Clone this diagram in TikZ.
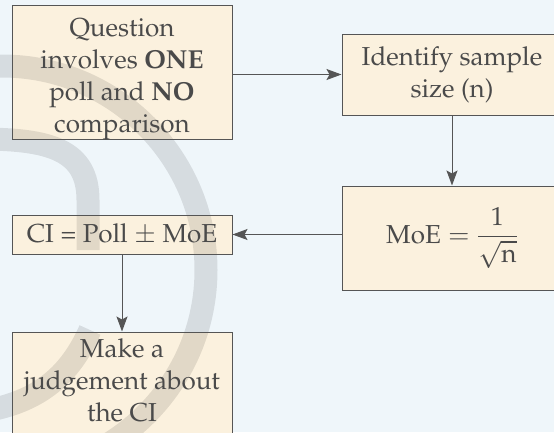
\documentclass[tikz,border=0pt]{standalone}
\usepackage[T1]{fontenc}
\usepackage{mathpazo}
\usetikzlibrary{arrows.meta,backgrounds}
\definecolor{bgc}{HTML}{EFF6FA}
\definecolor{boxc}{HTML}{FBF1DE}
\definecolor{linec}{HTML}{555555}
\definecolor{txtc}{HTML}{4A4A4A}
\begin{document}
\begin{tikzpicture}[x=1pt,y=-1pt,
  box/.style={draw=linec, line width=1pt, text=txtc, minimum width=220pt,
    align=center, inner sep=0pt, font=\fontsize{26}{32}\selectfont},
  arr/.style={draw=linec, line width=1pt, -{Stealth[length=15pt,width=11pt,inset=3pt]}},
  wm/.style={draw=black, draw opacity=0.1, line width=23pt}]
\useasboundingbox (0,0) rectangle (554,432);
\node[box, minimum height=133pt] (q) at (122,72.5)
  {\rule{0pt}{31pt}Question\\involves \textbf{ONE}\\poll and \textbf{NO}\\comparison};
\node[box, minimum height=81pt] (id) at (452,74.5) {Identify sample\\size (n)};
\node[box, minimum height=104pt] (moe) at (452,238)
  {$\mathrm{MoE}=\displaystyle\frac{1}{\sqrt{\mathrm{n}}}$};
\node[box, minimum height=39pt] (ci) at (122,234.5)
  {CI = Poll $\pm$ MoE};
\node[box, minimum height=102pt] (mk) at (122,383)
  {Make a\\judgement about\\the CI\rule[-5pt]{0pt}{5pt}};
\draw[arr] (id.west -| q.east) -- (id.west);
\draw[arr] (id.south) -- (moe.north);
\draw[arr] (ci.east -| moe.west) -- (ci.east);
\draw[arr] (ci.south) -- (mk.north);
\begin{pgfonlayer}{background}
  \clip (0,0) rectangle (554,432);
  \fill[bgc] (0,0) rectangle (554,432);
  \foreach \n in {q,id,moe,ci,mk}
    \fill[boxc] (\n.south west) rectangle (\n.north east);
  \draw[wm] (2,270) circle[radius=204];
  \draw[wm] (-20,139) .. controls (50,139) and (88,150) .. (88,200) -- (88,250);
  \draw[wm] (90,330) .. controls (70,375) and (40,400) .. (-10,410);
\end{pgfonlayer}
\end{tikzpicture}
\end{document}
